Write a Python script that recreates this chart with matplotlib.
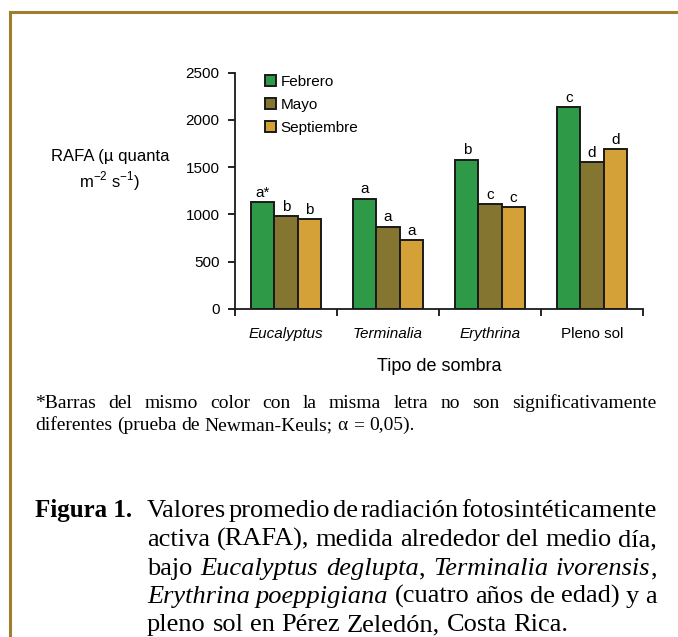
import numpy as np
import matplotlib.pyplot as plt
from matplotlib.lines import Line2D

plt.rcParams['font.family'] = ['Liberation Sans', 'DejaVu Sans']
plt.rcParams['mathtext.fontset'] = 'custom'
plt.rcParams['mathtext.rm'] = 'Liberation Sans'

# data
categories = ['Eucalyptus', 'Terminalia', 'Erythrina', 'Pleno sol']
cat_italic = [True, True, True, False]
months = ['Febrero', 'Mayo', 'Septiembre']
febrero = [1130, 1165, 1580, 2135]
mayo = [980, 870, 1110, 1555]
septiembre = [950, 730, 1075, 1690]
letters_feb = ['a*', 'a', 'b', 'c']
letters_may = ['b', 'a', 'c', 'd']
letters_sep = ['b', 'a', 'c', 'd']
colors = ['#2e9a47', '#847530', '#d4a038']

# _..._ marks italic words in the caption
footnote = ['*Barras del mismo color con la misma letra no son significativamente',
            'diferentes (prueba de Newman-Keuls; α = 0,05).']
caption = ['Valores promedio de radiación fotosintéticamente',
           'activa (RAFA), medida alrededor del medio día,',
           'bajo _Eucalyptus deglupta_, _Terminalia ivorensis_,',
           '_Erythrina poeppigiana_ (cuatro años de edad) y a',
           'pleno sol en Pérez Zeledón, Costa Rica.']

W, H = 678, 637
fig = plt.figure(figsize=(W / 100, H / 100), dpi=100)
renderer = fig.canvas.get_renderer()

ax = fig.add_axes([235 / W, 1 - 309 / H, 408 / W, 236.5 / H])
x = np.arange(len(categories))
bw = 0.227
series = [febrero, mayo, septiembre]
letters = [letters_feb, letters_may, letters_sep]
for i, (vals, lab, c) in enumerate(zip(series, months, colors)):
    xs = x + (i - 1) * bw
    ax.bar(xs, vals, bw, color=c, edgecolor='#1a1a1a', linewidth=1.4, label=lab)
    for xx, v, l in zip(xs, vals, letters[i]):
        ax.text(xx, v + 25, l, ha='center', va='bottom', fontsize=11)

ax.set_xlim(-0.5, 3.5)
ax.set_ylim(0, 2500)
ax.set_yticks(np.arange(0, 2501, 500))
ax.set_xticks(x)
ax.set_xticklabels(categories)
for t, it in zip(ax.get_xticklabels(), cat_italic):
    if it:
        t.set_fontstyle('italic')
ax.set_xticks(np.arange(-0.5, 4, 1), minor=True)
ax.tick_params(axis='x', which='major', length=0, pad=13, labelsize=11)
ax.tick_params(axis='x', which='minor', length=5, width=1.2, direction='out')
ax.tick_params(axis='y', length=5, width=1.2, direction='out', labelsize=11, pad=6)
for s in ['top', 'right']:
    ax.spines[s].set_visible(False)
for s in ['left', 'bottom']:
    ax.spines[s].set_linewidth(1.3)
    ax.spines[s].set_color('#1a1a1a')

ax.set_xlabel('Tipo de sombra', fontsize=13, labelpad=12)
fig.text(110 / W, 1 - 171 / H, 'RAFA (µ quanta\nm$^{-2}$ s$^{-1}$)', ha='center', va='center',
         fontsize=12, linespacing=1.3)

ax.legend(loc='upper left', bbox_to_anchor=(0.0735, 0.99), frameon=False, fontsize=11,
          handlelength=0.72, handleheight=0.72, handletextpad=0.3, labelspacing=0.6,
          borderaxespad=0, borderpad=0)

# gold frame
fig.add_artist(Line2D([10 / W, 1], [1 - 12 / H, 1 - 12 / H], color='#a07f2c', lw=2.2,
                      transform=fig.transFigure))
fig.add_artist(Line2D([10 / W, 10 / W], [0, 1 - 12 / H], color='#a07f2c', lw=2.2,
                      transform=fig.transFigure))


def seg_width(txt, **kw):
    t = fig.text(0, 0, txt, **kw)
    w = t.get_window_extent(renderer).width
    t.remove()
    return w


def parse(line):
    words = []
    italic = False
    for w in line.split(' '):
        segs = []
        for k, part in enumerate(w.split('_')):
            if k > 0:
                italic = not italic
            if part:
                segs.append((part, 'italic' if italic else 'normal'))
        words.append(segs)
    return words


def draw_line(line, x0, x1, y, justify, **kw):
    words = parse(line)
    widths = [sum(seg_width(s, fontstyle=st, **kw) for s, st in w) for w in words]
    if justify:
        gap = (x1 - x0 - sum(widths)) / (len(words) - 1)
    else:
        gap = seg_width('a a', **kw) - seg_width('aa', **kw)
    xp = x0
    for w, ww in zip(words, widths):
        xs = xp
        for s, st in w:
            fig.text(xs / W, 1 - y / H, s, fontstyle=st, ha='left', va='baseline', **kw)
            xs += seg_width(s, fontstyle=st, **kw)
        xp += ww + gap


serif = dict(family='Liberation Serif', fontsize=14)
draw_line(footnote[0], 35, 656, 408, True, **serif)
draw_line(footnote[1], 35, 656, 430, False, **serif)

cap = dict(family='Liberation Serif', fontsize=19)
fig.text(35 / W, 1 - 517 / H, 'Figura 1.', fontweight='bold', ha='left', va='baseline',
         family='Liberation Serif', fontsize=18)
base = [517, 546, 575, 603, 631]
for i, (line, yb) in enumerate(zip(caption, base)):
    draw_line(line, 147, 657, yb, i < len(caption) - 1, **cap)

fig.savefig('out.png', dpi=100)
